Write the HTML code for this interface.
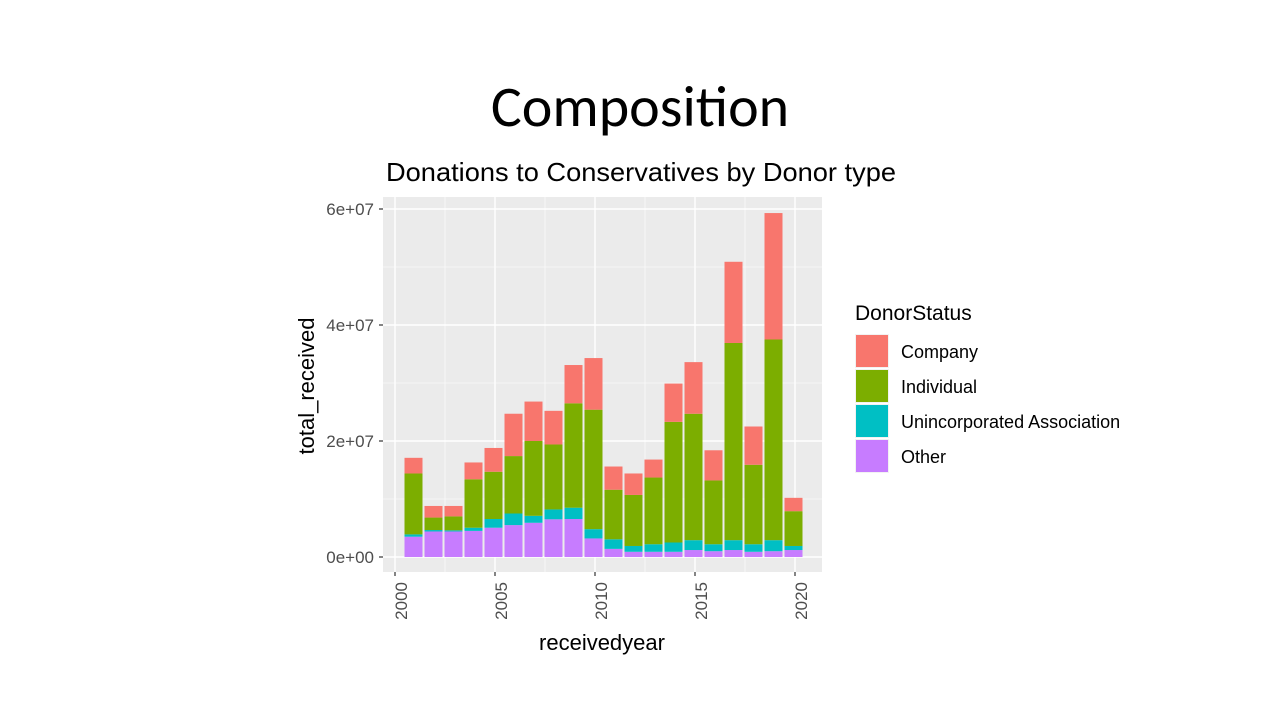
<!DOCTYPE html>
<html><head><meta charset="utf-8"><style>
body{margin:0;background:#fff;width:1280px;height:720px;overflow:hidden;font-family:"Liberation Sans",sans-serif}
#slide-title{position:absolute;left:0;width:1280px;top:72px;text-align:center;font-size:58px;line-height:70px;color:#000;font-family:"Carlito","Liberation Sans",sans-serif}
</style></head><body>
<div id="slide-title">Composition</div>
<svg id="chart" width="1280" height="720" style="position:absolute;left:0;top:0"></svg>
<script>
const years=[2001,2002,2003,2004,2005,2006,2007,2008,2009,2010,2011,2012,2013,2014,2015,2016,2017,2018,2019,2020];
// values in millions
const other=[3.5,4.4,4.4,4.5,5.05,5.5,5.9,6.5,6.55,3.2,1.4,0.9,0.9,0.9,1.2,1.0,1.2,0.9,1.0,1.2];
const unincorporated=[0.4,0.25,0.2,0.55,1.5,2.0,1.2,1.7,1.95,1.6,1.65,1.0,1.3,1.6,1.7,1.2,1.7,1.3,1.9,0.7];
const individual=[10.5,2.15,2.4,8.35,8.15,9.9,12.9,11.2,18.0,20.6,8.55,8.8,11.5,20.8,21.8,11.0,34.0,13.7,34.6,6.0];
const company=[2.7,2.0,1.8,2.9,4.1,7.3,6.8,5.8,6.6,8.9,4.0,3.7,3.1,6.6,8.9,5.2,14.0,6.6,21.8,2.3];
const yTicks=[0,20,40,60];
const yTickLabels=["0e+00","2e+07","4e+07","6e+07"];
const xTicks=[2000,2005,2010,2015,2020];
const series=[{n:"other",v:other,c:"#C77CFF"},{n:"unincorporated",v:unincorporated,c:"#00BFC4"},{n:"individual",v:individual,c:"#7CAE00"},{n:"company",v:company,c:"#F8766D"}];
const svg=document.getElementById('chart');const NS="http://www.w3.org/2000/svg";
function el(t,a,p){const e=document.createElementNS(NS,t);for(const k in a)e.setAttribute(k,a[k]);(p||svg).appendChild(e);return e;}
const PL=383,PR=822,PT=197,PB=572;
const x=yr=>395+(yr-2000)*20;
const y=v=>557-v*5.8;
const panel=el('rect',{x:PL,y:PT,width:PR-PL,height:PB-PT,fill:'#EBEBEB'});


for(let i=0;i<yTicks.length-1;i++){const m=(yTicks[i]+yTicks[i+1])/2;el('line',{x1:PL,x2:PR,y1:y(m),y2:y(m),stroke:'#fff','stroke-width':0.6});}
for(let i=0;i<xTicks.length-1;i++){const m=(xTicks[i]+xTicks[i+1])/2;el('line',{y1:PT,y2:PB,x1:x(m),x2:x(m),stroke:'#fff','stroke-width':0.6});}
yTicks.forEach((t,i)=>{el('line',{x1:PL,x2:PR,y1:y(t),y2:y(t),stroke:'#fff','stroke-width':1.4});
el('line',{x1:PL-4,x2:PL,y1:y(t),y2:y(t),stroke:'#333','stroke-width':1.2});
const tx=el('text',{x:PL-9,y:y(t)+6,'text-anchor':'end','font-size':17,fill:'#4d4d4d'});tx.textContent=yTickLabels[i];

});
xTicks.forEach(t=>{el('line',{y1:PT,y2:PB,x1:x(t),x2:x(t),stroke:'#fff','stroke-width':1.4});
el('line',{y1:PB,y2:PB+4,x1:x(t),x2:x(t),stroke:'#333','stroke-width':1.2});
const tx=el('text',{x:0,y:0,'text-anchor':'end','font-size':17,fill:'#4d4d4d',transform:`translate(${x(t)+12},${PB+10}) rotate(-90)`});tx.textContent=t;

});
years.forEach((yr,i)=>{let base=0;series.forEach(s=>{const v=s.v[i];const r=el('rect',{x:x(yr)-10.5,width:18,y:y(base+v),height:y(base)-y(base+v),fill:s.c});

base+=v;});});
const t1=el('text',{x:641,y:181,'text-anchor':'middle','font-size':26,fill:'#000',textLength:510,lengthAdjust:'spacingAndGlyphs'});t1.textContent="Donations to Conservatives by Donor type";

const t2=el('text',{x:602,y:650,'text-anchor':'middle','font-size':22,fill:'#000'});t2.textContent="receivedyear";

const t3=el('text',{x:0,y:0,'text-anchor':'middle','font-size':22,fill:'#000',transform:'translate(314,386) rotate(-90)'});t3.textContent="total_received";

const lt=el('text',{x:855,y:320,'font-size':21,fill:'#000'});lt.textContent="DonorStatus";

const leg=[["Company","#F8766D"],["Individual","#7CAE00"],["Unincorporated Association","#00BFC4"],["Other","#C77CFF"]];
leg.forEach((l,i)=>{const g=el('g',{});
el('rect',{x:855,y:334+i*35,width:34,height:34,fill:'#F2F2F2'},g);
el('rect',{x:856,y:335+i*35,width:32,height:32,fill:l[1]},g);
const tx=el('text',{x:901,y:358+i*35,'font-size':18,fill:'#000'},g);tx.textContent=l[0];});
</script>
</body></html>
